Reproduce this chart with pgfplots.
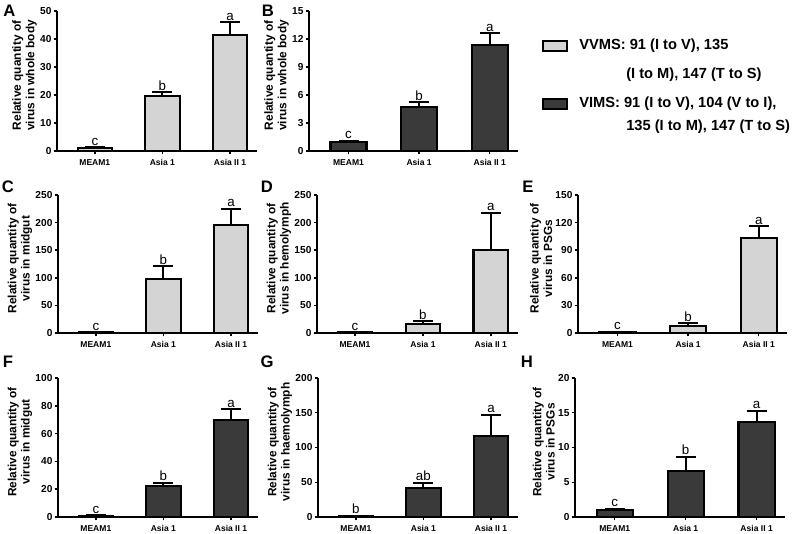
\documentclass[border=0pt]{standalone}
\usepackage{fontspec}
\setmainfont{Liberation Sans}
\usepackage{pgfplots}
\pgfplotsset{compat=1.18}
\definecolor{lightg}{RGB}{212,212,212}
\definecolor{darkg}{RGB}{58,58,58}
\pgfplotsset{
  panel/.style={
    scale only axis, anchor=south west,
    axis x line*=bottom, axis y line*=left,
    xmin=-0.56, xmax=2.4, ymin=0,
    xtick={0,1,2}, xticklabels={MEAM1,Asia 1,Asia II 1},
    x tick label style={font=\bfseries\fontsize{6.4}{7}\selectfont, inner sep=1.5pt, yshift=-2pt},
    y tick label style={font=\bfseries\fontsize{7.6}{8}\selectfont, inner sep=1.5pt},
    /pgf/number format/assume math mode=true,
    tick align=outside, major tick length=2.5pt,
    tick style={line width=1.1pt, black},
    axis line style={line width=1.2pt},
    ylabel style={align=center, font=\bfseries\fontsize{8.9}{10}\selectfont,
      at={(ticklabel cs:0.54,-2.5pt)}},
    clip=false,
  },
  basebar/.style={ybar, bar width=0.51, bar shift=0pt, draw=black, line width=1.6pt,
    error bars/y dir=plus, error bars/y explicit,
    error bars/error bar style={line width=1.5pt, black},
    error bars/error mark options={rotate=90, mark size=7.5pt, line width=1.5pt, black}},
  lbar/.style={basebar, fill=lightg},
  dbar/.style={basebar, fill=darkg},
}
\newcommand{\lab}[3]{\node[font=\fontsize{10}{10}\selectfont, anchor=south, inner sep=1.2pt] at (axis cs:#1,#2) {#3};}
\begin{document}
\begin{tikzpicture}
\useasboundingbox (0,0) rectangle (600pt,399.75pt);

% A
\begin{axis}[panel, at={(42.75pt,286.5pt)}, width=150pt, height=105pt,
  ymax=50, ytick={0,10,...,50}, ylabel={Relative quantity of\\virus in whole body}]
\addplot[lbar] coordinates {(0,1.0) +- (0,0.4) (1,19.5) +- (0,1.5) (2,41.3) +- (0,4.7)};
\lab{0}{1.4}{c}\lab{1}{21}{b}\lab{2}{46}{a}
\end{axis}

% B
\begin{axis}[panel, at={(231.75pt,286.5pt)}, width=156.75pt, height=105pt,
  ymax=15, ytick={0,3,...,15}, ylabel={Relative quantity of\\virus in whole body}]
\addplot[dbar] coordinates {(0,1.0) +- (0,0.12) (1,4.7) +- (0,0.55) (2,11.4) +- (0,1.2)};
\lab{0}{1.12}{c}\lab{1}{5.25}{b}\lab{2}{12.6}{a}
\end{axis}

% C
\begin{axis}[panel, at={(43.5pt,150pt)}, width=150pt, height=103.5pt,
  ymax=250, ytick={0,50,...,250}, ylabel={Relative quantity of\\virus in midgut}]
\addplot[lbar] coordinates {(0,1.0) +- (0,0.5) (1,98) +- (0,23) (2,196) +- (0,29)};
\lab{0}{1.5}{c}\lab{1}{121}{b}\lab{2}{225}{a}
\end{axis}

% D
\begin{axis}[panel, at={(237.75pt,150pt)}, width=150.75pt, height=103.5pt,
  ymax=250, ytick={0,50,...,250}, ylabel={Relative quantity of\\virus in hemolymph}]
\addplot[lbar] coordinates {(0,1.0) +- (0,0.5) (1,16) +- (0,5) (2,150) +- (0,68)};
\lab{0}{1.5}{c}\lab{1}{21}{b}\lab{2}{218}{a}
\end{axis}

% E
\begin{axis}[panel, at={(433.5pt,150pt)}, width=156.75pt, height=103.5pt,
  ymax=150, ytick={0,30,...,150}, ylabel={Relative quantity of\\virus in PSGs}]
\addplot[lbar] coordinates {(0,1.0) +- (0,0.5) (1,8) +- (0,2.5) (2,103) +- (0,13)};
\lab{0}{1.5}{c}\lab{1}{10.5}{b}\lab{2}{116}{a}
\end{axis}

% F
\begin{axis}[panel, at={(43.5pt,12pt)}, width=150pt, height=104.25pt,
  ymax=100, ytick={0,20,...,100}, ylabel={Relative quantity of\\virus in midgut}]
\addplot[dbar] coordinates {(0,1.0) +- (0,0.3) (1,22) +- (0,2.5) (2,69.5) +- (0,8)};
\lab{0}{1.3}{c}\lab{1}{24.5}{b}\lab{2}{77.5}{a}
\end{axis}

% G
\begin{axis}[panel, at={(238.5pt,12pt)}, width=150pt, height=104.25pt,
  ymax=200, ytick={0,50,...,200}, ylabel={Relative quantity of\\virus in haemolymph}]
\addplot[dbar] coordinates {(0,1.0) +- (0,0.5) (1,42) +- (0,7) (2,117) +- (0,30)};
\lab{0}{1.5}{b}\lab{1}{49}{ab}\lab{2}{147}{a}
\end{axis}

% H
\begin{axis}[panel, at={(431.25pt,12pt)}, width=157.5pt, height=104.25pt,
  ymax=20, ytick={0,5,...,20}, ylabel={Relative quantity of\\virus in PSGs}]
\addplot[dbar] coordinates {(0,1.0) +- (0,0.2) (1,6.6) +- (0,2.1) (2,13.7) +- (0,1.6)};
\lab{0}{1.2}{c}\lab{1}{8.7}{b}\lab{2}{15.3}{a}
\end{axis}

% panel letters
\begin{scope}[every node/.style={font=\bfseries\fontsize{12.5}{13}\selectfont, inner sep=0pt}]
\node at (7pt,391.5pt) {A};
\node at (201pt,391.5pt) {B};
\node at (6pt,259.5pt) {C};
\node at (200.25pt,259.5pt) {D};
\node at (396pt,259.5pt) {E};
\node at (6pt,128.25pt) {F};
\node at (200.25pt,128.25pt) {G};
\node at (395.25pt,128.25pt) {H};
\end{scope}

% legend
\begin{scope}[every node/.style={font=\bfseries\fontsize{11}{12}\selectfont, inner sep=0pt, anchor=west}]
\draw[fill=lightg, line width=1.2pt] (407.25pt,361.5pt) rectangle (425.25pt,369pt);
\node at (434.25pt,365.25pt) {VVMS: 91 (I to V), 135};
\node at (469.5pt,344pt) {(I to M), 147 (T to S)};
\draw[fill=darkg, line width=1.2pt] (407.25pt,318pt) rectangle (425.25pt,325.5pt);
\node at (434.25pt,321.75pt) {VIMS: 91 (I to V), 104 (V to I),};
\node at (469.5pt,304.7pt) {135 (I to M), 147 (T to S)};
\end{scope}
\end{tikzpicture}
\end{document}
